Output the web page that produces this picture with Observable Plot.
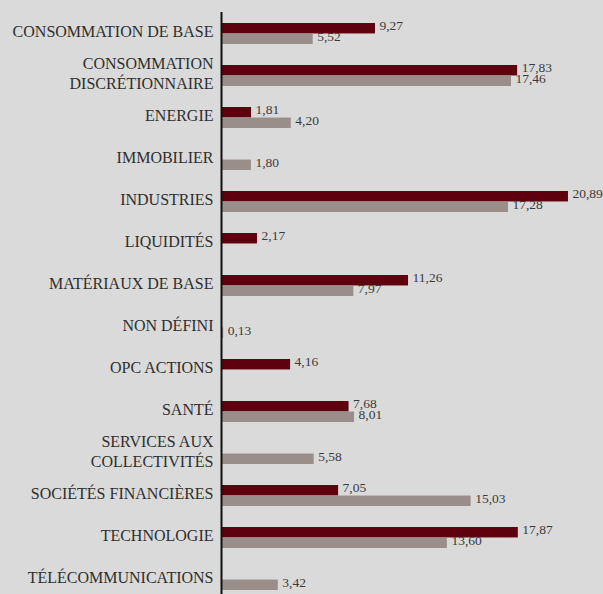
<!DOCTYPE html>
<html>
<head>
<meta charset="utf-8">
<script src="https://cdn.jsdelivr.net/npm/d3@7"></script>
<script src="https://cdn.jsdelivr.net/npm/@observablehq/plot@0.6"></script>
<style>
  html, body { margin: 0; padding: 0; background: #dadada; }
  #chart { width: 603px; height: 594px; overflow: hidden; }
</style>
</head>
<body>
<div id="chart"></div>
<script>
const categories = [
  "CONSOMMATION DE BASE",
  "CONSOMMATION\nDISCRÉTIONNAIRE",
  "ENERGIE",
  "IMMOBILIER",
  "INDUSTRIES",
  "LIQUIDITÉS",
  "MATÉRIAUX DE BASE",
  "NON DÉFINI",
  "OPC ACTIONS",
  "SANTÉ",
  "SERVICES AUX\nCOLLECTIVITÉS",
  "SOCIÉTÉS FINANCIÈRES",
  "TECHNOLOGIE",
  "TÉLÉCOMMUNICATIONS"
];
const fonds = [9.27, 17.83, 1.81, null, 20.89, 2.17, 11.26, null, 4.16, 7.68, null, 7.05, 17.87, null];
const indice = [5.52, 17.46, 4.20, 1.80, 17.28, null, 7.97, 0.13, null, 8.01, 5.58, 15.03, 13.60, 3.42];

const colorFonds = "#5e000d";
const colorIndice = "#9a8e8a";

const fmt = v => v.toFixed(2).replace(".", ",");
const rowsF = categories.map((c, i) => ({cat: c, v: fonds[i]})).filter(d => d.v != null);
const rowsI = categories.map((c, i) => ({cat: c, v: indice[i]})).filter(d => d.v != null);

const chart = Plot.plot({
  width: 603,
  height: 594,
  marginLeft: 221,
  marginRight: 0,
  marginTop: 12,
  marginBottom: 0,
  style: {background: "#dadada", fontFamily: "'Liberation Serif', 'Times New Roman', serif"},
  x: {domain: [0, 23], range: [221, 603], axis: null},
  y: {domain: categories, range: [11, 602], paddingInner: 0.5, paddingOuter: 0.25, axis: null},
  marks: [
    Plot.barX(rowsF, {x: "v", y: "cat", fill: colorFonds, insetBottom: 10.55, insetTop: 0}),
    Plot.barX(rowsI, {x: "v", y: "cat", fill: colorIndice, insetTop: 10.55, insetBottom: 0}),
    Plot.text(rowsF, {x: "v", y: "cat", text: d => fmt(d.v), dx: 4, dy: -8.5, textAnchor: "start", fontSize: 13.5, fill: "#3a3a3a"}),
    Plot.text(rowsI, {x: "v", y: "cat", text: d => fmt(d.v), dx: 4, dy: 2.5, textAnchor: "start", fontSize: 13.5, fill: "#3a3a3a"}),
    Plot.axisY({tickSize: 0, tickPadding: 8, fontSize: 16, lineHeight: 1.25, dy: -3, fill: "#2e2e2e", label: null}),
    Plot.ruleX([0], {stroke: "#111", strokeWidth: 2})
  ]
});
document.getElementById("chart").appendChild(chart);
</script>
</body>
</html>
